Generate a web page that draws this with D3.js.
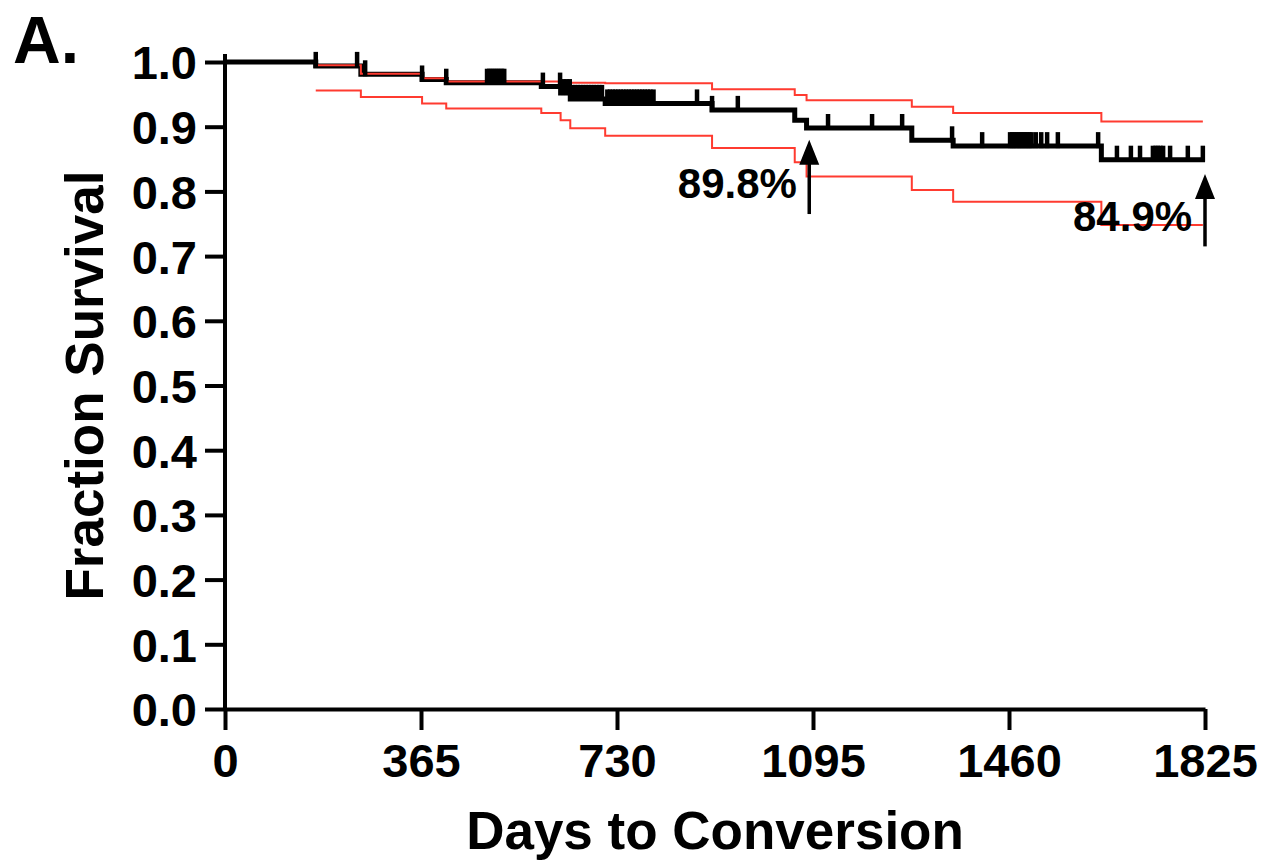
<!DOCTYPE html>
<html>
<head>
<meta charset="utf-8">
<script src="https://cdn.jsdelivr.net/npm/d3@7"></script>
<style>
  html, body { margin: 0; padding: 0; background: #fff; }
  svg text { font-family: "Liberation Sans", Arial, Helvetica, sans-serif; font-weight: bold; fill: #000; }
</style>
</head>
<body>
<svg id="chart" width="1263" height="862"></svg>
<script>
// Kaplan-Meier estimate: [day, fraction surviving from that day on]
var survival = [
    [0, 1.0], [169, 0.994], [253, 0.981], [367, 0.973], [412, 0.968],
    [589, 0.962], [625, 0.952], [643, 0.943], [708, 0.936], [907, 0.926],
    [1061, 0.910], [1083, 0.898], [1279, 0.879], [1356, 0.870], [1632, 0.849],
    [1825, 0.849]
];

// 95% confidence band
var upperCI = [
    [169, 0.995], [253, 0.982], [367, 0.975], [412, 0.970], [589, 0.970],
    [625, 0.969], [643, 0.968], [708, 0.967], [907, 0.958], [1061, 0.949],
    [1083, 0.941], [1279, 0.931], [1356, 0.921], [1632, 0.908], [1821, 0.908]
];
var lowerCI = [
    [169, 0.956], [253, 0.946], [367, 0.936], [412, 0.928], [589, 0.921],
    [625, 0.910], [643, 0.8975], [708, 0.886], [907, 0.867], [1061, 0.845],
    [1083, 0.823], [1279, 0.802], [1356, 0.784], [1632, 0.748], [1821, 0.748]
];

// censored observations (days)
var censored = [
    169, 246, 261, 367, 412,
    488, 492, 496, 500, 504, 508, 512, 516, 520,
    592, 624, 630, 636, 642, 647, 652, 657, 662, 667, 672, 677, 682, 687, 692, 697, 702,
    712, 717, 722, 727, 732, 737, 742, 747, 752, 757, 762, 767, 772, 777, 782, 787, 792, 798,
    879, 907, 955, 1123, 1205, 1261, 1354, 1410,
    1462, 1466, 1470, 1474, 1478, 1482, 1486, 1490, 1494, 1498, 1502, 1510, 1520, 1531, 1551,
    1626, 1661, 1687, 1704, 1728, 1733, 1737, 1742, 1747, 1760, 1793, 1821
];

var xTicks = [0, 365, 730, 1095, 1460, 1825];
var yTicks = [0, 0.1, 0.2, 0.3, 0.4, 0.5, 0.6, 0.7, 0.8, 0.9, 1.0];

// annotation arrows: day, from value, to value, label
var arrows = [
    {day: 1088, from: 0.765, to: 0.880, label: "89.8%", labelDay: 1065, labelValue: 0.790},
    {day: 1825, from: 0.715, to: 0.827, label: "84.9%", labelDay: 1801, labelValue: 0.739}
];

var svg = d3.select("#chart");

var x = d3.scaleLinear().domain([0, 1825]).range([225, 1205]);
var y = d3.scaleLinear().domain([0, 1]).range([709, 62]);

// axes
var xAxis = svg.append("g")
    .attr("transform", "translate(0," + y(0) + ")")
    .call(d3.axisBottom(x).tickValues(xTicks).tickSize(21).tickSizeOuter(0)
        .tickPadding(14).tickFormat(d3.format("d")));

var yAxis = svg.append("g")
    .attr("transform", "translate(" + x(0) + ",0)")
    .call(d3.axisLeft(y).tickValues(yTicks).tickSize(20).tickSizeOuter(0)
        .tickPadding(8).tickFormat(d3.format(".1f")));

yAxis.select(".domain").attr("d", "M0," + y(0) + "V" + (y(1) - 8));

[xAxis, yAxis].forEach(function(a) {
    a.selectAll(".domain, .tick line")
        .attr("stroke", "#000")
        .attr("stroke-width", 4);
    a.selectAll(".tick text")
        .style("font-size", "47px")
        .attr("fill", "#000");
});
xAxis.selectAll(".tick text").attr("dy", "0.71em");
yAxis.selectAll(".tick text").attr("dy", "0.36em");

// axis titles
svg.append("text")
    .attr("x", (x(0) + x(1825)) / 2)
    .attr("y", 849)
    .attr("text-anchor", "middle")
    .style("font-size", "53px")
    .text("Days to Conversion");

svg.append("text")
    .attr("transform", "translate(103," + ((y(0) + y(1)) / 2) + ") rotate(-90)")
    .attr("text-anchor", "middle")
    .style("font-size", "53px")
    .text("Fraction Survival");

svg.append("text")
    .attr("x", 13)
    .attr("y", 63)
    .style("font-size", "66px")
    .text("A.");

// curves
var step = d3.line()
    .x(function(d) { return x(d[0]); })
    .y(function(d) { return y(d[1]); })
    .curve(d3.curveStepAfter);

svg.append("path")
    .datum(survival)
    .attr("d", step)
    .attr("fill", "none")
    .attr("stroke", "#000")
    .attr("stroke-width", 5);

[upperCI, lowerCI].forEach(function(band) {
    svg.append("path")
        .datum(band)
        .attr("d", step)
        .attr("fill", "none")
        .attr("stroke", "#ff3b30")
        .attr("stroke-width", 2);
});

// censor marks sit on the survival step at that day
var bisect = d3.bisector(function(d) { return d[0]; }).right;
function survAt(day) {
    return survival[Math.max(0, bisect(survival, day) - 1)][1];
}

svg.append("g").selectAll("line")
    .data(censored)
    .join("line")
    .attr("x1", function(d) { return x(d); })
    .attr("x2", function(d) { return x(d); })
    .attr("y1", function(d) { return y(survAt(d)) + 2; })
    .attr("y2", function(d) { return y(survAt(d)) - 14; })
    .attr("stroke", "#000")
    .attr("stroke-width", 4.5);

// arrows and labels
var ann = svg.append("g").selectAll("g")
    .data(arrows)
    .join("g");

ann.append("line")
    .attr("x1", function(d) { return x(d.day); })
    .attr("x2", function(d) { return x(d.day); })
    .attr("y1", function(d) { return y(d.from); })
    .attr("y2", function(d) { return y(d.to) + 20; })
    .attr("stroke", "#000")
    .attr("stroke-width", 3.5);

ann.append("path")
    .attr("d", function(d) {
        var cx = x(d.day), tip = y(d.to);
        return "M" + cx + "," + tip + "L" + (cx + 10) + "," + (tip + 25) +
            "L" + (cx - 10) + "," + (tip + 25) + "Z";
    })
    .attr("fill", "#000");

ann.append("text")
    .attr("x", function(d) { return x(d.labelDay); })
    .attr("y", function(d) { return y(d.labelValue); })
    .attr("text-anchor", "end")
    .style("font-size", "42px")
    .text(function(d) { return d.label; });
</script>
</body>
</html>
